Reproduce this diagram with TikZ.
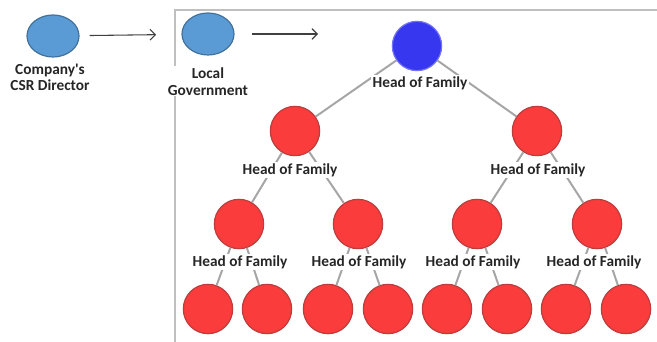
\documentclass[tikz,border=0pt]{standalone}
\usepackage{fontspec}
\setmainfont{Carlito}
\usepackage{tikz}
\usetikzlibrary{shapes.geometric, arrows.meta}

\definecolor{ptblue}{RGB}{91,155,213}
\definecolor{ptblueline}{RGB}{65,113,156}
\definecolor{headblue}{RGB}{55,55,240}
\definecolor{famred}{RGB}{250,60,60}
\definecolor{famredline}{RGB}{190,60,60}

\begin{document}
\begin{tikzpicture}[x=0.75pt,y=0.75pt,yscale=-1,xscale=1,
  officer/.style={ellipse, draw=ptblueline, fill=ptblue, line width=0.9, minimum width=39pt, minimum height=31.5pt, inner sep=0pt},
  head/.style={circle, draw=headblue!70!white, fill=headblue, line width=0.9, minimum size=37pt, inner sep=0pt},
  member/.style={circle, draw=famredline, fill=famred, line width=0.9, minimum size=37pt, inner sep=0pt},
  tag/.style={fill=white, inner sep=1pt, font=\fontsize{11.5}{12.5}\selectfont\bfseries, text=black!85},
  link/.style={draw=black!35, line width=1.5},
  flow/.style={draw=black!75, line width=0.8, -{Straight Barb[length=4pt,width=8pt]}}]
\useasboundingbox (0,0) rectangle (657,342);

% frame of the local area
\draw [black!25, line width=1.2] (657,10) -- (175,10) -- (175,342) ;

% people outside the family tree
\node [officer] (csr) at (53,36) {};
\node [officer] (gov) at (208,34) {};
\node [tag, align=center, below=0pt] (csrtext) at (50,62) {Company\textquotesingle s\\CSR Director};
\node [tag, align=center, below=0pt] (govtext) at (208,66) {Local\\Government};
\coordinate (govto) at (318,34);
\draw [flow, shorten <=7.5pt, shorten >=19pt] (csr) -- (gov) ;
\draw [flow, shorten <=13pt] (gov) -- (govto) ;

% head of all families
\node [head] (top) at (417,46) {};
% second level
\node [member] (l) at (295,131) {};
\node [member] (r) at (537,131) {};
% third level
\node [member] (ll) at (239,224) {};
\node [member] (lr) at (358,224) {};
\node [member] (rl) at (477,224) {};
\node [member] (rr) at (597,224) {};
% last level
\node [member] (lla) at (208,309) {};
\node [member] (llb) at (267,309) {};
\node [member] (lra) at (328,309) {};
\node [member] (lrb) at (388,309) {};
\node [member] (rla) at (447,309) {};
\node [member] (rlb) at (507,309) {};
\node [member] (rra) at (566,309) {};
\node [member] (rrb) at (626,309) {};

% links
\foreach \p/\c in {top/l,top/r,l/ll,l/lr,r/rl,r/rr,ll/lla,ll/llb,lr/lra,lr/lrb,rl/rla,rl/rlb,rr/rra,rr/rrb}
  \draw [link] (\p) -- (\c) ;

% Text Node
\node [tag] (toptext) at (420,83) {Head of Family};
\node [tag] (ltext) at (290,170) {Head of Family};
\node [tag] (rtext) at (538,170) {Head of Family};
\node [tag] (lltext) at (240,262) {Head of Family};
\node [tag] (lrtext) at (359,262) {Head of Family};
\node [tag] (rltext) at (473,262) {Head of Family};
\node [tag] (rrtext) at (594,262) {Head of Family};

\end{tikzpicture}
\end{document}
